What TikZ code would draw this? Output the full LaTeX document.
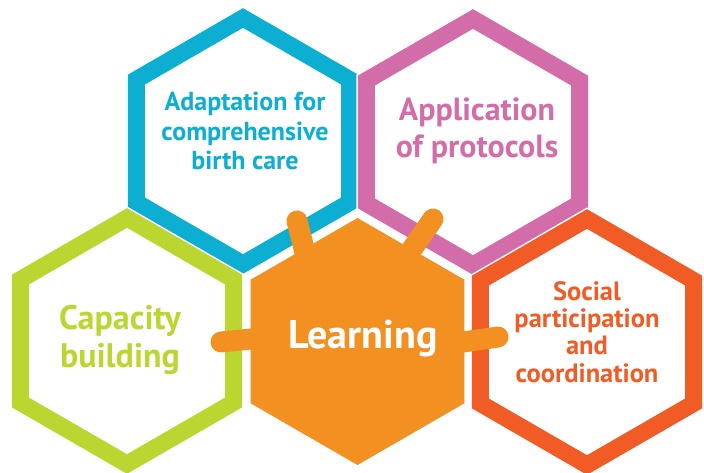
\documentclass[tikz,border=0pt]{standalone}
\usepackage{fontspec}
\setmainfont{PT Sans}
\usetikzlibrary{shapes.geometric}
\definecolor{hexblue}{RGB}{12,174,210}
\definecolor{hexpink}{RGB}{211,109,170}
\definecolor{hexgreen}{RGB}{188,214,49}
\definecolor{hexorange}{RGB}{242,144,33}
\definecolor{hexred}{RGB}{241,91,38}
\tikzset
{
    hexring/.style  = {regular polygon, regular polygon sides=6, shape border rotate=30, minimum size=246pt, inner sep=0pt, line width=17pt, draw=#1, preaction={draw=white, line width=20pt}},
    hexcore/.style  = {regular polygon, regular polygon sides=6, shape border rotate=30, minimum size=247pt, inner sep=0pt, fill=hexorange},
    hexlabel/.style = {align=center, inner sep=0pt, text=#1},
    arm/.style      = {line width=21pt, line cap=round, draw=hexorange}
}

\begin{document}
\begin{tikzpicture}[x=1pt, y=-1pt]
    \fill [white] (0,0) rectangle (704,472);
    \useasboundingbox (0,0) rectangle (704,472);

    \node [hexring=hexblue]  (adapt)  at (243,141) {};
    \node [hexring=hexpink]  (proto)  at (473,142) {};
    \node [hexring=hexgreen] (capac)  at (127,341) {};
    \node [hexring=hexred]   (social) at (587,342) {};

    \node [hexlabel=hexblue, font=\bfseries\fontsize{26}{29.5}\selectfont] (adapt-t) at (245,131) {Adaptation for\\comprehensive\\birth care};
    \node [hexlabel=hexpink, font=\bfseries\fontsize{32}{37}\selectfont] (proto-t) at (477,131) {Application\\of protocols};
    \node [hexlabel=hexgreen, font=\bfseries\fontsize{34}{38}\selectfont] (capac-t) at (120,340) {Capacity\\building};
    \node [hexlabel=hexred, font=\bfseries\fontsize{26.5}{27.3}\selectfont] (social-t) at (587,332) {Social\\participation\\and\\coordination};

    % centre cell with its arms
    \node [hexcore] (learn) at (357.5,341.5) {};
    \coordinate (tip-adapt)  at (297,221);
    \coordinate (tip-proto)  at (433,219);
    \coordinate (tip-capac)  at (221,342);
    \coordinate (tip-social) at (498,337);
    \draw [arm] (learn) ++(-51,-83) -- (tip-adapt);
    \draw [arm] (learn) ++(48,-83) -- (tip-proto);
    \draw [arm] (learn) ++(-82,-5) -- (tip-capac);
    \draw [arm] (learn) ++(88,3) -- (tip-social);

    \node [hexlabel=white, font=\bfseries\fontsize{40}{44}\selectfont] (learn-t) at (363,339) {Learning};
\end{tikzpicture}
\end{document}
